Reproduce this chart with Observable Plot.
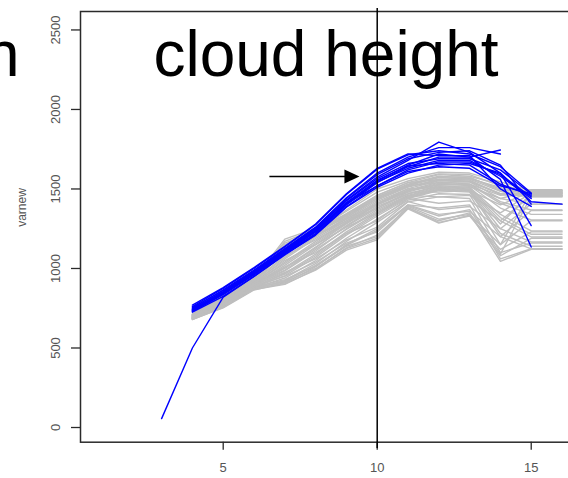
<!DOCTYPE html>
<html>
<head>
<meta charset="utf-8">
<script src="https://cdn.jsdelivr.net/npm/d3@7"></script>
<script src="https://cdn.jsdelivr.net/npm/@observablehq/plot@0.6"></script>
<style>
  html, body { margin: 0; padding: 0; background: white; overflow: hidden; }
</style>
</head>
<body>
<div id="chart"></div>
<script>
// ---- data ----
const titleText = "cloud height";
const cutText = "h";
const yLabel = "varnew";
const xTicks = [5, 10, 15];
const yTicks = [0, 500, 1000, 1500, 2000, 2500];

const xsGray = [4, 5, 6, 7, 8, 9, 10, 11, 12, 13, 14, 15, 16];
const graySeries = [
  [712, 828, 948, 1090, 1228, 1368, 1500, 1565, 1605, 1600, 1545, 1490, 1490],
  [708, 822, 940, 1100, 1240, 1360, 1480, 1550, 1595, 1590, 1520, 1482, 1482],
  [705, 815, 935, 1185, 1252, 1340, 1460, 1540, 1590, 1580, 1530, 1475, 1475],
  [700, 810, 930, 1170, 1245, 1330, 1450, 1530, 1580, 1570, 1500, 1465, 1465],
  [698, 805, 925, 1150, 1232, 1320, 1440, 1520, 1572, 1562, 1485, 1458, 1458],
  [702, 800, 915, 1120, 1212, 1310, 1430, 1512, 1562, 1556, 1465, 1452, 1452],
  [695, 795, 910, 1060, 1190, 1300, 1420, 1502, 1552, 1545, 1440, 1405, 1405],
  [692, 790, 905, 1040, 1170, 1290, 1410, 1492, 1542, 1532, 1420, 1368, 1368],
  [690, 785, 900, 1020, 1150, 1280, 1400, 1482, 1530, 1522, 1380, 1305, 1305],
  [688, 780, 895, 1000, 1130, 1270, 1390, 1470, 1520, 1510, 1340, 1236, 1236],
  [686, 775, 890, 985, 1110, 1250, 1370, 1460, 1510, 1500, 1300, 1198, 1198],
  [684, 770, 885, 970, 1090, 1230, 1350, 1450, 1500, 1490, 1250, 1167, 1167],
  [682, 765, 880, 955, 1070, 1210, 1330, 1440, 1490, 1480, 1200, 1123, 1123],
  [680, 760, 875, 940, 1050, 1190, 1310, 1430, 1470, 1465, 1150, 1480, 1480],
  [678, 755, 870, 925, 1030, 1170, 1290, 1420, 1450, 1440, 1100, 1160, 1160],
  [680, 752, 865, 910, 1010, 1150, 1250, 1400, 1380, 1400, 1060, 1125, 1125],
  [683, 758, 868, 900, 995, 1130, 1210, 1380, 1300, 1350, 1045, 1120, 1120],
  [686, 762, 872, 905, 990, 1115, 1180, 1375, 1285, 1335, 1080, 1190, 1190],
  [688, 768, 878, 915, 1000, 1125, 1190, 1385, 1290, 1330, 1120, 1230, 1230],
  [690, 772, 882, 930, 1015, 1140, 1200, 1390, 1310, 1340, 1150, 1300, 1300],
  [693, 778, 888, 950, 1040, 1160, 1230, 1400, 1340, 1360, 1200, 1365, 1365],
  [696, 784, 895, 975, 1060, 1180, 1260, 1420, 1370, 1390, 1250, 1405, 1405],
  [699, 790, 902, 1010, 1100, 1220, 1300, 1440, 1410, 1425, 1300, 1460, 1460],
  [703, 798, 912, 1050, 1150, 1260, 1350, 1460, 1450, 1460, 1350, 1475, 1475],
  [706, 806, 922, 1080, 1180, 1290, 1380, 1480, 1480, 1490, 1400, 1485, 1485],
  [709, 812, 930, 1100, 1200, 1310, 1410, 1500, 1510, 1515, 1440, 1490, 1490],
  [711, 818, 938, 1130, 1215, 1330, 1440, 1520, 1540, 1545, 1470, 1495, 1495],
  [714, 826, 945, 1160, 1235, 1345, 1460, 1540, 1560, 1565, 1510, 1460, 1460],
  [697, 800, 918, 1070, 1200, 1320, 1440, 1515, 1555, 1550, 1470, 1470, 1470],
  [694, 792, 906, 1030, 1160, 1285, 1405, 1488, 1535, 1528, 1410, 1340, 1340],
  [689, 782, 896, 1005, 1135, 1265, 1380, 1468, 1515, 1505, 1320, 1215, 1215],
  [685, 772, 886, 965, 1080, 1220, 1340, 1445, 1495, 1485, 1220, 1140, 1140],
  [691, 788, 900, 990, 1120, 1245, 1360, 1455, 1505, 1495, 1280, 1470, 1470],
  [701, 803, 920, 1110, 1205, 1300, 1400, 1490, 1525, 1530, 1460, 1480, 1480],
  [687, 766, 876, 920, 1020, 1145, 1240, 1395, 1330, 1370, 1090, 1455, 1455],
  [704, 808, 927, 1140, 1225, 1335, 1450, 1525, 1575, 1575, 1490, 1450, 1450]
];

const xsBlue = [3, 4, 5, 6, 7, 8, 9, 10, 11, 12, 13, 14, 15, 16];
const blueSeries = [
  [null, 745, 855, 980, 1115, 1250, 1430, 1575, 1680, 1795, 1730, 1600, 1270, null],
  [null, 735, 845, 970, 1105, 1235, 1410, 1550, 1650, 1720, 1700, 1560, 1135, null],
  [null, 750, 865, 990, 1125, 1260, 1445, 1600, 1700, 1760, 1760, 1720, null, null],
  [null, 728, 835, 960, 1095, 1220, 1400, 1540, 1640, 1700, 1700, 1745, null, null],
  [null, 760, 875, 1000, 1135, 1275, 1465, 1625, 1715, 1740, 1720, 1640, 1475, null],
  [null, 725, 825, 950, 1085, 1210, 1385, 1510, 1600, 1650, 1660, 1600, 1420, 1405],
  [null, 740, 850, 975, 1110, 1245, 1425, 1565, 1660, 1690, 1690, 1620, 1468, null],
  [null, 755, 860, 985, 1120, 1255, 1440, 1590, 1690, 1730, 1740, 1650, 1405, null],
  [null, 732, 840, 965, 1100, 1230, 1405, 1545, 1630, 1680, 1680, 1580, 1440, null],
  [null, 770, 880, 1005, 1140, 1280, 1470, 1630, 1720, 1710, 1710, 1500, 1390, null],
  [null, 745, 848, 972, 1108, 1238, 1415, 1555, 1645, 1660, 1650, 1530, 1460, null],
  [null, 738, 842, 968, 1102, 1232, 1410, 1520, 1610, 1640, 1630, 1520, 1470, null],
  [56, 500, 820, 950, 1090, 1215, 1390, 1520, 1620, 1670, 1670, 1590, 1450, null]
];

// annotations (data coordinates)
const vline = [{x: 10, y1: 2635, y2: -132}];
const arrowData = [{x1: 6.5, x2: 9.0, y: 1578, head: 9.18}];

// ---- tidy tables ----
const grayRows = graySeries.flatMap((s, i) =>
  s.map((v, j) => ({id: "g" + i, x: xsGray[j], y: v})).filter(d => d.y != null));
const blueRows = blueSeries.flatMap((s, i) =>
  s.map((v, j) => ({id: "b" + i, x: xsBlue[j], y: v})).filter(d => d.y != null));

const arrowHead = {
  draw(context) {
    context.moveTo(7.5, 0);
    context.lineTo(-7.5, -7);
    context.lineTo(-7.5, 7);
    context.closePath();
  }
};

const chart = Plot.plot({
  width: 568,
  height: 478,
  marginLeft: 80,
  marginRight: -12,
  marginTop: 11,
  marginBottom: 36.3,
  x: {domain: [0.367, 16.6]},
  y: {domain: [-92.4, 2616]},
  style: {fontFamily: "Liberation Sans", background: "white"},
  marks: [
    Plot.line(grayRows, {x: "x", y: "y", z: "id", stroke: "#bebebe", strokeWidth: 1.4}),
    Plot.line(blueRows, {x: "x", y: "y", z: "id", stroke: "#0000ff", strokeWidth: 1.4}),
    Plot.frame({stroke: "#2a2a2a", strokeWidth: 1.5}),
    Plot.axisX(xTicks, {tickSize: 8, tickPadding: 13, fontSize: 13, fill: "#555", stroke: "#2a2a2a", strokeWidth: 1.3, tickFormat: "d", label: null}),
    Plot.axisY(yTicks, {tickSize: 9, tickPadding: 12, tickRotate: -90, fontSize: 13, fill: "#555", stroke: "#2a2a2a", strokeWidth: 1.3, tickFormat: "d", label: null}),
    Plot.text([yLabel], {frameAnchor: "left", dx: -58, rotate: -90, fontSize: 12, fill: "#555"}),
    Plot.ruleX(vline, {x: "x", y1: "y1", y2: "y2", stroke: "black", strokeWidth: 1.5}),
    Plot.link(arrowData, {x1: "x1", x2: "x2", y1: "y", y2: "y", stroke: "black", strokeWidth: 1.5}),
    Plot.dot(arrowData, {x: "head", y: "y", symbol: arrowHead, fill: "black", stroke: "none"}),
    Plot.text([titleText], {frameAnchor: "top", dx: -4.5, dy: 64, lineAnchor: "bottom", fontSize: 64, fill: "black"}),
    Plot.text([cutText], {frameAnchor: "top-left", textAnchor: "end", dx: -61, dy: 64, lineAnchor: "bottom", fontSize: 64, fill: "black"})
  ]
});
document.getElementById("chart").appendChild(chart);
</script>
</body>
</html>
